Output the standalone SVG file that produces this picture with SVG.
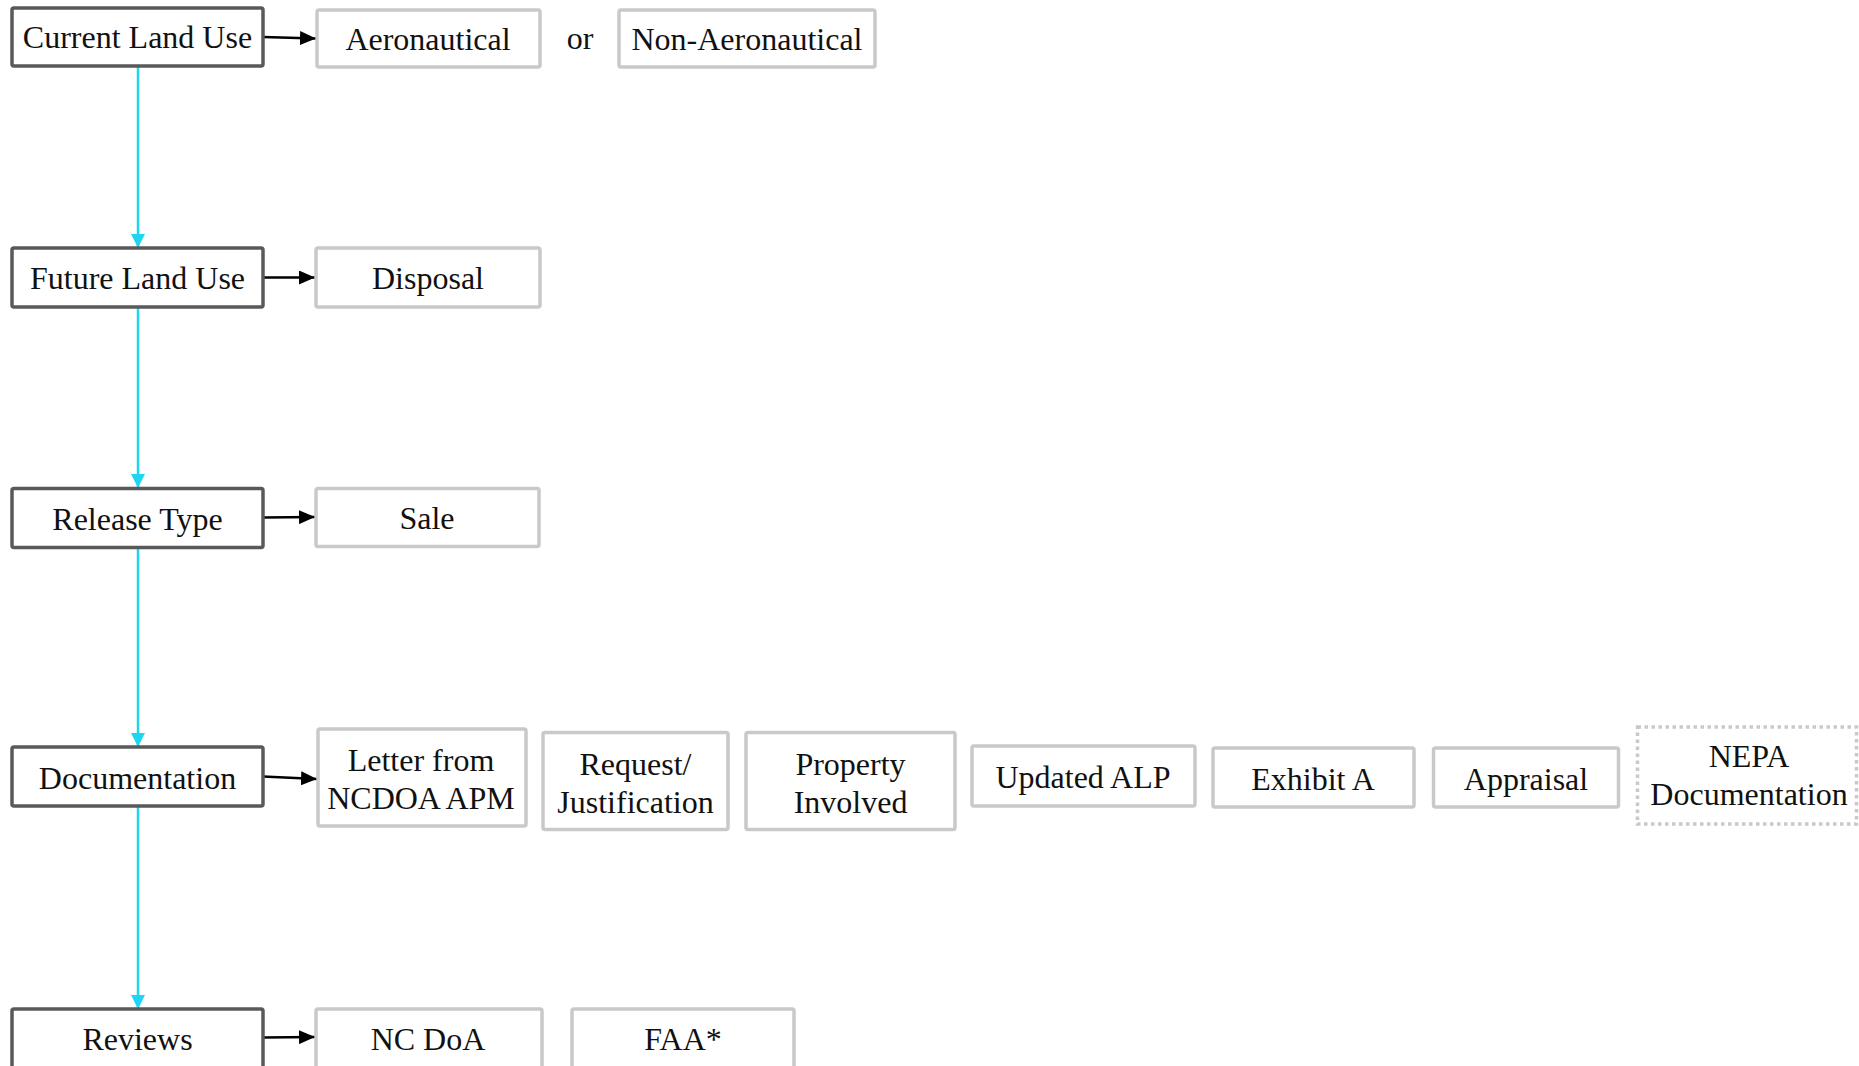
<svg xmlns="http://www.w3.org/2000/svg" width="1859" height="1066" viewBox="0 0 1859 1066">
<style>
text{font-family:"Liberation Serif","Times New Roman",serif;font-size:32px;fill:#111;text-anchor:middle;dominant-baseline:central}
.main{fill:#fff;stroke:#595959;stroke-width:3.5}
.sub{fill:#fff;stroke:#c9c9c9;stroke-width:3.5}
.dot{fill:#fff;stroke:#c9c9c9;stroke-width:3.5;stroke-dasharray:3.5 3.5}
.blk{stroke:#000;stroke-width:2.5;fill:none}
.cy{stroke:#1ed6f2;stroke-width:2.5;fill:none}
</style>
<defs>
<marker id="ab" markerUnits="userSpaceOnUse" markerWidth="16" markerHeight="14" refX="16" refY="7" orient="auto"><path d="M0,0 L16,7 L0,14 Z" fill="#000"/></marker>
<marker id="ac" markerUnits="userSpaceOnUse" markerWidth="14" markerHeight="14" refX="14" refY="7" orient="auto"><path d="M0,0 L14,7 L0,14 Z" fill="#1ed6f2"/></marker>
</defs>
<g id="connectors">
<path class="blk" d="M263,37 L316,38.5" marker-end="url(#ab)"/>
<path class="blk" d="M263,277.5 L315,277.5" marker-end="url(#ab)"/>
<path class="blk" d="M263,517.5 L315,517" marker-end="url(#ab)"/>
<path class="blk" d="M263,776.5 L317,779" marker-end="url(#ab)"/>
<path class="blk" d="M263,1037.5 L315,1037" marker-end="url(#ab)"/>
<path class="cy" d="M138,66 L138,248" marker-end="url(#ac)"/>
<path class="cy" d="M138,307 L138,488" marker-end="url(#ac)"/>
<path class="cy" d="M138,548 L138,747" marker-end="url(#ac)"/>
<path class="cy" d="M138,806 L138,1009" marker-end="url(#ac)"/>
</g>
<g id="current-land-use"><rect class="main" x="12" y="8" width="251" height="58" rx="2"/><text x="137.5" y="37">Current Land Use</text></g>
<g id="aeronautical"><rect class="sub" x="317" y="10" width="223" height="57" rx="2"/><text x="428" y="39">Aeronautical</text></g>
<g id="or"><text x="580" y="38">or</text></g>
<g id="non-aeronautical"><rect class="sub" x="619" y="10" width="256" height="57" rx="2"/><text x="747" y="39">Non-Aeronautical</text></g>
<g id="future-land-use"><rect class="main" x="12" y="248" width="251" height="59" rx="2"/><text x="137.5" y="278">Future Land Use</text></g>
<g id="disposal"><rect class="sub" x="316" y="248" width="224" height="59" rx="2"/><text x="428" y="278">Disposal</text></g>
<g id="release-type"><rect class="main" x="12" y="488.5" width="251" height="59" rx="2"/><text x="137.5" y="519">Release Type</text></g>
<g id="sale"><rect class="sub" x="316" y="488.5" width="223" height="58" rx="2"/><text x="427" y="518">Sale</text></g>
<g id="documentation"><rect class="main" x="12" y="747" width="251" height="59" rx="2"/><text x="137.5" y="777.5">Documentation</text></g>
<g id="letter"><rect class="sub" x="318" y="729" width="208" height="97" rx="2"/><text x="421" y="760">Letter from</text><text x="421" y="798">NCDOA APM</text></g>
<g id="request"><rect class="sub" x="543" y="732.5" width="185" height="97" rx="2"/><text x="635.5" y="763.5">Request/</text><text x="635.5" y="801.5">Justification</text></g>
<g id="property"><rect class="sub" x="746" y="732.5" width="209" height="97" rx="2"/><text x="850.5" y="763.5">Property</text><text x="850.5" y="801.5">Involved</text></g>
<g id="updated-alp"><rect class="sub" x="972" y="746" width="223" height="60" rx="2"/><text x="1083" y="776.5">Updated ALP</text></g>
<g id="exhibit-a"><rect class="sub" x="1213" y="748" width="201" height="59" rx="2"/><text x="1313" y="779">Exhibit A</text></g>
<g id="appraisal"><rect class="sub" x="1433.5" y="748" width="185" height="59" rx="2"/><text x="1526" y="779">Appraisal</text></g>
<g id="nepa"><rect class="dot" x="1637.5" y="727" width="219" height="97"/><text x="1749" y="756">NEPA</text><text x="1749" y="794">Documentation</text></g>
<g id="reviews"><rect class="main" x="12" y="1009" width="251" height="59" rx="2"/><text x="137.5" y="1039">Reviews</text></g>
<g id="nc-doa"><rect class="sub" x="316" y="1009" width="226" height="59" rx="2"/><text x="428" y="1039">NC DoA</text></g>
<g id="faa"><rect class="sub" x="572" y="1009" width="222" height="59" rx="2"/><text x="683" y="1039">FAA*</text></g>
</svg>
